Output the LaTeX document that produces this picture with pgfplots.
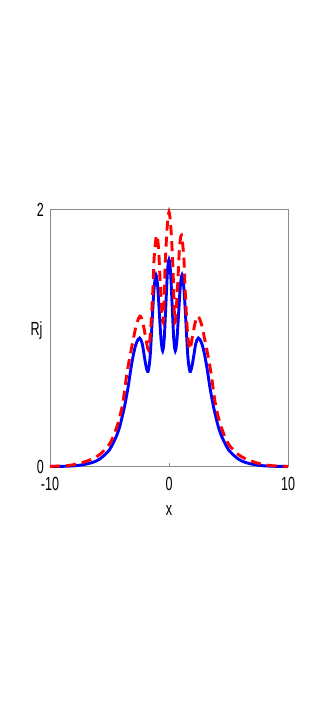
\documentclass[border=0pt]{standalone}
\usepackage{fontspec}
\setmainfont{Liberation Sans}[FakeStretch=0.66]
\usepackage{pgfplots}
\pgfplotsset{compat=1.18}
\newcommand{\tL}{\fontsize{19}{21}\selectfont}

\pgfplotstableread{
x y
-10 0.0003
-9 0.001
-8.5 0.003
-8 0.005
-7.37 0.012
-6.8 0.022
-6.26 0.037
-5.8 0.06
-5.41 0.09
-5.0 0.13
-4.71 0.18
-4.4 0.24
-4.14 0.31
-3.9 0.40
-3.73 0.47
-3.45 0.61
-3.17 0.78
-2.9 0.91
-2.7 0.97
-2.47 1.00
-2.26 0.96
-2.095 0.87
-1.93 0.78
-1.76 0.74
-1.59 0.85
-1.425 1.115
-1.26 1.38
-1.09 1.49
-0.95 1.40
-0.81 1.195
-0.67 0.99
-0.53 0.90
-0.3975 1.00
-0.265 1.255
-0.1325 1.51
0 1.61
0.1325 1.51
0.265 1.255
0.3975 1.00
0.53 0.90
0.67 0.99
0.81 1.195
0.95 1.40
1.09 1.49
1.26 1.38
1.425 1.115
1.59 0.85
1.76 0.74
1.93 0.78
2.095 0.87
2.26 0.96
2.47 1.00
2.7 0.97
2.9 0.91
3.17 0.78
3.45 0.61
3.73 0.47
3.9 0.40
4.14 0.31
4.4 0.24
4.71 0.18
5.0 0.13
5.41 0.09
5.8 0.06
6.26 0.037
6.8 0.022
7.37 0.012
8 0.005
8.5 0.003
9 0.001
10 0.0003
}\blue

\pgfplotstableread{
x y
-10 0.001
-9 0.004
-8.3 0.01
-7.5 0.025
-6.55 0.055
-5.8 0.095
-5.07 0.165
-4.7 0.23
-4.31 0.33
-4.05 0.42
-3.84 0.52
-3.56 0.71
-3.28 0.86
-3.0 0.99
-2.75 1.10
-2.44 1.17
-2.2 1.12
-1.95 1.00
-1.74 0.91
-1.55 1.05
-1.37 1.35
-1.25 1.62
-1.05 1.80
-0.88 1.70
-0.72 1.40
-0.5 1.12
-0.33 1.55
-0.17 1.84
0 1.98
0.17 1.84
0.33 1.55
0.5 1.12
0.72 1.40
0.88 1.70
1.05 1.80
1.25 1.62
1.37 1.35
1.55 1.05
1.74 0.91
1.95 1.00
2.2 1.12
2.44 1.17
2.75 1.10
3.0 0.99
3.28 0.86
3.56 0.71
3.84 0.52
4.05 0.42
4.31 0.33
4.7 0.23
5.07 0.165
5.8 0.095
6.55 0.055
7.5 0.025
8.3 0.01
9 0.004
10 0.001
}\red

\begin{document}
\begin{tikzpicture}
\useasboundingbox (-50pt,-241.5pt) rectangle (277pt,466.5pt);
\begin{axis}[
  at={(0,0)}, anchor=south west,
  scale only axis,
  width=238pt, height=257pt,
  xmin=-10, xmax=10, ymin=0, ymax=2,
  xtick={-10,0,10}, ytick={0,2},
  tick align=inside, major tick length=3pt,
  axis line style={draw=black!45, line width=0.5pt},
  tick style={draw=black!45, line width=0.5pt},
  tick label style={font=\tL, inner sep=1pt},
  /pgf/number format/assume math mode=true,
  xticklabel style={yshift=-10pt},
  yticklabel style={xshift=-5pt},
  xlabel={x}, ylabel={Rj},
  label style={font=\tL},
  xlabel style={yshift=-10pt},
  ylabel style={rotate=-90, at={(rel axis cs:0,0.53)}, anchor=east, xshift=-4pt},
  clip=false,
]
\addplot[color={rgb,1:red,0;green,0;blue,1}, line width=2.9pt, smooth] table[x=x,y=y] {\blue};
\addplot[color={rgb,1:red,1;green,0;blue,0}, line width=2.9pt, smooth, dash pattern=on 10pt off 6pt] table[x=x,y=y] {\red};
\end{axis}
\end{tikzpicture}
\end{document}
